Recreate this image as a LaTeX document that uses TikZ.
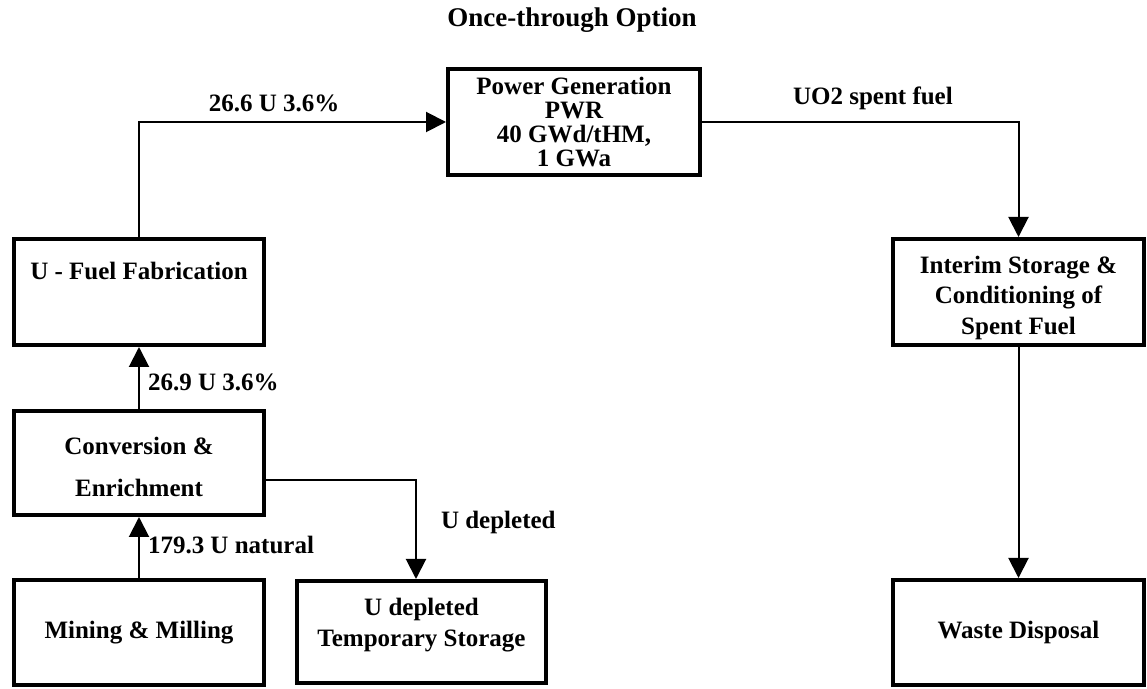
\documentclass[tikz,border=0pt]{standalone}
\usepackage{fontspec}
\setmainfont{Liberation Serif}
\usetikzlibrary{arrows.meta}

\begin{document}
\begin{tikzpicture}[x=0.5pt, y=-0.5pt,
    block/.style={rectangle, draw, line width=2pt, minimum width=125pt, minimum height=53pt, align=center, inner sep=2pt, font=\fontsize{12.5}{21}\selectfont\bfseries},
    arrow/.style={-{Triangle[length=10pt,width=10pt]}, line width=1pt},
    flow/.style={font=\fontsize{12.5}{15}\selectfont\bfseries, inner sep=1pt}]

    \useasboundingbox (0,0) rectangle (1147,689);

    \node[flow, font=\fontsize{13.5}{15}\selectfont\bfseries] (title) at (572,20) {Once-through Option};

    \node[block, minimum width=126pt, font=\fontsize{12.5}{12}\selectfont\bfseries] (power) at (574,122) {Power Generation\\PWR\\40 GWd/tHM,\\1 GWa};
    \node[block] (fab) at (139,292) {U - Fuel Fabrication\\~};
    \node[block, minimum height=52pt, text height=33.6pt] (conv) at (139,463) {Conversion \&\\Enrichment};
    \node[block, minimum height=52.5pt] (mine) at (139,632.5) {Mining \& Milling};
    \node[block, minimum width=124.5pt, minimum height=51pt, text depth=9.7pt, font=\fontsize{12.5}{15.5}\selectfont\bfseries] (depl) at (421.5,632) {U depleted\\Temporary Storage};
    \node[block, minimum width=125.5pt, text height=45.1pt, font=\fontsize{12.5}{15.25}\selectfont\bfseries] (interim) at (1018.5,292) {Interim Storage \&\\Conditioning of\\Spent Fuel};
    \node[block, minimum width=125.5pt, minimum height=52.5pt] (waste) at (1018.5,632.5) {Waste Disposal};

    \draw[arrow] (fab.north) |- node[flow, above, pos=0.72, yshift=3.7pt] {26.6 U 3.6\%} (power.west);
    \draw[arrow] (power.east) -| node[flow, above, pos=0.27, yshift=4.8pt] {UO2 spent fuel} (interim.north);
    \draw[arrow] (interim) -- (waste);
    \draw[arrow] (conv) -- node[flow, right, xshift=3pt, yshift=-2pt] {26.9 U 3.6\%} (fab);
    \draw[arrow] (mine) -- node[flow, right, xshift=3pt, yshift=1pt] {179.3 U natural} (conv);
    \draw[arrow] ([yshift=-8.5pt]conv.east) -| node[flow, right, pos=0.717, xshift=11pt] {U depleted} ([xshift=-2.75pt]depl.north);

\end{tikzpicture}
\end{document}
